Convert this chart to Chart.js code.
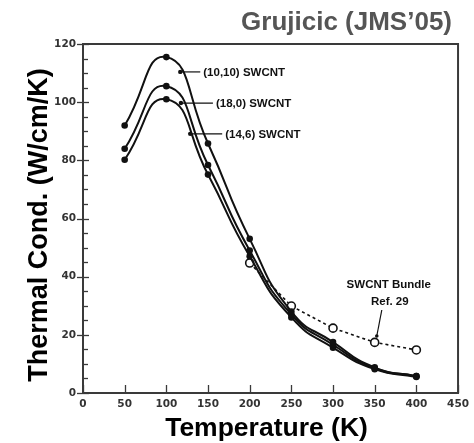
<!DOCTYPE html>
<html>
<head>
<meta charset="utf-8">
<script src="https://cdn.jsdelivr.net/npm/chart.js@4.4.1/dist/chart.umd.min.js"></script>
<style>
  html, body { margin: 0; padding: 0; background: #fff; }
  #wrap { width: 474px; height: 443px; position: relative; }
</style>
</head>
<body>
<div id="wrap"><canvas id="c"></canvas></div>
<script>
// Temperatures (K) at which the conductivities were computed
const temps = [50, 100, 150, 200, 250, 300, 350, 400];
// Thermal conductivity (W/cm/K) of single-wall nanotubes
const k1010 = [92, 115.5, 85.8, 53, 28, 17.5, 8.8, 5.8];
const k180  = [84, 105.5, 78.4, 49, 27, 16.6, 8.5, 5.8];
const k146  = [80.2, 101, 75.1, 47, 26, 15.6, 8.2, 5.5];
// Measured bundle values (Ref. 29)
const bundleTemps = [200, 250, 300, 350, 400];
const kBundle = [44.7, 29.9, 22.3, 17.4, 14.8];

const seriesNames = ['(10,10) SWCNT', '(18,0) SWCNT', '(14,6) SWCNT'];
const bundleNames = ['SWCNT Bundle', 'Ref. 29'];
const xTicks = [0, 50, 100, 150, 200, 250, 300, 350, 400, 450];
const yTicks = [0, 20, 40, 60, 80, 100, 120];

const chartTitle = 'Grujicic (JMS\u201905)';
const xTitle = 'Temperature (K)';
const yTitle = 'Thermal Cond. (W/cm/K)';

const pts = (xs, ys) => xs.map((x, i) => ({ x, y: ys[i] }));

const INK = '#111';
const FRAME = '#3a3a3a';
const tickFont = { family: 'DejaVu Sans', weight: 'bold', size: 10.5 };

// frame, inward ticks, leader labels and titles
const decor = {
  id: 'decor',
  beforeDatasetsDraw(chart) {
    const { ctx, chartArea: a, scales: { x, y } } = chart;
    ctx.save();
    ctx.strokeStyle = FRAME;
    ctx.lineWidth = 1.3;
    // y ticks: major every 20 crossing the axis, minor every 5 inside
    for (let v = 0; v <= 120; v += 5) {
      const py = Math.round(y.getPixelForValue(v)) + 0.5;
      const major = v % 20 === 0;
      ctx.beginPath();
      ctx.moveTo(a.left - (major ? 6 : 0), py);
      ctx.lineTo(a.left + (major ? 6 : 5), py);
      ctx.stroke();
    }
    // x ticks every 50, pointing up into the plot
    xTicks.forEach(v => {
      const px = Math.round(x.getPixelForValue(v)) + 0.5;
      ctx.beginPath();
      ctx.moveTo(px, a.bottom);
      ctx.lineTo(px, a.bottom - 8);
      ctx.stroke();
    });
    ctx.lineWidth = 2;
    ctx.strokeRect(a.left, a.top, a.right - a.left, a.bottom - a.top);
    ctx.restore();
  },
  afterDatasetsDraw(chart, args, opts) {
    const { ctx, scales: { x, y } } = chart;
    ctx.save();
    ctx.strokeStyle = INK;
    ctx.fillStyle = INK;
    ctx.lineWidth = 1.2;
    ctx.font = 'bold 11.5px "Liberation Sans", Arial, sans-serif';
    ctx.textBaseline = 'middle';
    ctx.textAlign = 'left';
    opts.leaders.forEach((L, i) => {
      const px = x.getPixelForValue(L.t), py = y.getPixelForValue(L.k);
      ctx.beginPath();
      ctx.moveTo(px, py);
      ctx.lineTo(px + L.len, py);
      ctx.stroke();
      ctx.beginPath();
      ctx.arc(px, py, 2.2, 0, Math.PI * 2);
      ctx.fill();
      ctx.fillText(seriesNames[i], px + L.len + 3, py + 0.5);
    });
    // bundle label with its leader
    const B = opts.bundle;
    const bx = x.getPixelForValue(B.t), by = y.getPixelForValue(B.k);
    ctx.beginPath();
    ctx.moveTo(bx, by);
    ctx.lineTo(bx + 5, by - 26);
    ctx.stroke();
    ctx.beginPath();
    ctx.arc(bx, by, 1.8, 0, Math.PI * 2);
    ctx.fill();
    ctx.textAlign = 'center';
    ctx.fillText(bundleNames[0], bx + 12, by - 51);
    ctx.fillText(bundleNames[1], bx + 13, by - 34);
    ctx.restore();
  },
  afterDraw(chart) {
    const { ctx, chartArea: a } = chart;
    ctx.save();
    ctx.textBaseline = 'middle';
    ctx.textAlign = 'right';
    ctx.fillStyle = '#555';
    ctx.font = 'bold 26px "Liberation Sans", Arial, sans-serif';
    ctx.fillText(chartTitle, 452, 23);
    ctx.fillStyle = '#000';
    ctx.textAlign = 'center';
    ctx.font = 'bold 26.5px "Liberation Sans", Arial, sans-serif';
    ctx.fillText(xTitle, (a.left + a.right) / 2 - 4, 429);
    ctx.font = 'bold 27px "Liberation Sans", Arial, sans-serif';
    ctx.translate(40, 225);
    ctx.rotate(-Math.PI / 2);
    ctx.fillText(yTitle, 0, 0);
    ctx.restore();
  }
};

const lineStyle = {
  borderColor: INK,
  backgroundColor: INK,
  borderWidth: 2,
  pointRadius: 3.3,
  pointBorderWidth: 0,
  pointBackgroundColor: INK,
  tension: 0.55,
  fill: false
};

new Chart(document.getElementById('c'), {
  type: 'line',
  data: {
    datasets: [
      Object.assign({ label: seriesNames[0], data: pts(temps, k1010) }, lineStyle),
      Object.assign({ label: seriesNames[1], data: pts(temps, k180) }, lineStyle),
      Object.assign({ label: seriesNames[2], data: pts(temps, k146) }, lineStyle),
      {
        label: bundleNames[0],
        data: pts(bundleTemps, kBundle),
        borderColor: INK,
        borderWidth: 1.6,
        borderDash: [3, 3],
        tension: 0,
        pointRadius: 4,
        pointBorderWidth: 1.6,
        pointBorderColor: INK,
        pointBackgroundColor: '#fff',
        fill: false
      }
    ]
  },
  options: {
    responsive: true,
    maintainAspectRatio: false,
    animation: false,
    layout: { padding: { top: 44, right: 14, left: 0, bottom: 0 } },
    plugins: {
      legend: { display: false },
      tooltip: { enabled: false },
      decor: {
        leaders: [
          { t: 116.7, k: 110.4, len: 20 },
          { t: 117.5, k: 99.7, len: 32 },
          { t: 128.6, k: 89.1, len: 32 }
        ],
        bundle: { t: 352.5, k: 19.6 }
      }
    },
    scales: {
      x: {
        type: 'linear',
        min: 0, max: 450,
        afterBuildTicks: s => { s.ticks = xTicks.map(v => ({ value: v })); },
        afterFit: s => { s.height = 50; },
        grid: { display: false, drawTicks: false },
        border: { display: false },
        ticks: { color: '#333', font: tickFont, padding: 5, maxRotation: 0, autoSkip: false }
      },
      y: {
        min: 0, max: 120,
        afterBuildTicks: s => { s.ticks = yTicks.map(v => ({ value: v })); },
        afterFit: s => { s.width = 83; },
        grid: { display: false, drawTicks: false },
        border: { display: false },
        ticks: { color: '#333', font: tickFont, padding: 7 }
      }
    }
  },
  plugins: [decor]
});
</script>
</body>
</html>
